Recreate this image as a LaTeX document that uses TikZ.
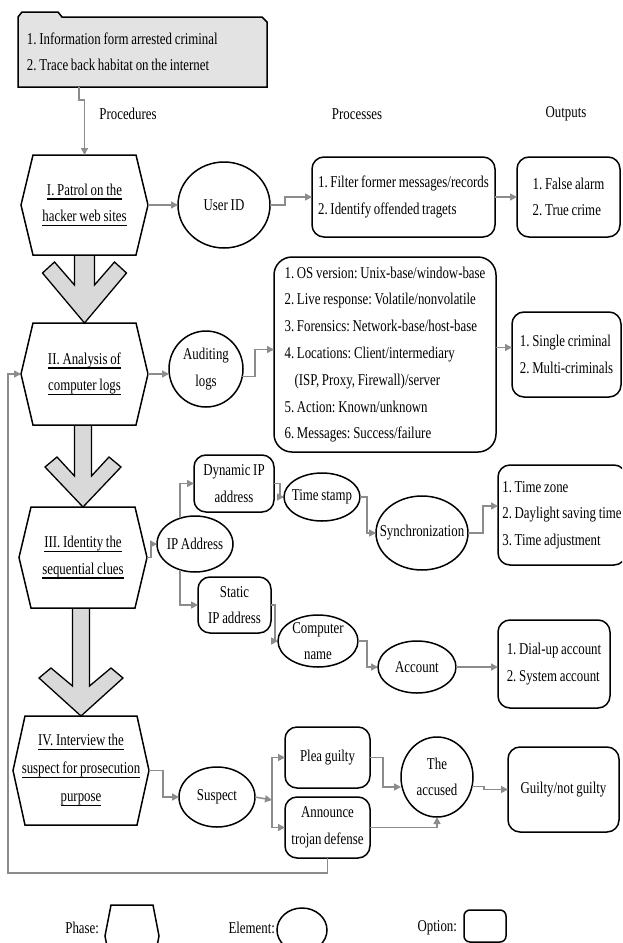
\documentclass[tikz,border=0pt]{standalone}
\usepackage{fontspec}
\setmainfont{Liberation Serif}[FakeStretch=0.78,WordSpace=0.85]
\frenchspacing
\usetikzlibrary{shapes.geometric,arrows.meta,calc}
\definecolor{cgray}{HTML}{8C8C8C}
\definecolor{afill}{HTML}{D9D9D9}
\definecolor{ffill}{HTML}{E3E3E3}
\newsavebox\ulbox
\newcommand\myul[1]{\sbox\ulbox{#1}\rlap{\rule[-4.5pt]{\wd\ulbox}{1.6pt}}\usebox\ulbox}
\newcommand\phasehex[2]{\draw[hexa] ($(#1.north west)+(#2,0)$) -- ($(#1.north east)+(-#2,0)$) -- (#1.east) -- ($(#1.south east)+(-#2,0)$) -- ($(#1.south west)+(#2,0)$) -- (#1.west) -- cycle;}
\newcommand\bigarrow[8]{%
 \coordinate (bgT) at (#2.north);
 \coordinate (bgL) at ($(bgT)+(-#3,-#4)$);
 \coordinate (bgR) at ($(bgT)+(#3,-#4)$);
 \draw[big] (bgL |- #1.south) -- (bgL) -- ($(bgT)+(-#5,-#6)$) -- ($(bgT)+(-#7,-#8)$) -- (bgT) -- ($(bgT)+(#7,-#8)$) -- ($(bgT)+(#5,-#6)$) -- (bgR) -- (bgR |- #1.south);}
\begin{document}
\begin{tikzpicture}[x=1pt,y=-1pt,
  every node/.style={font=\fontsize{16.5}{26.5}\selectfont, inner sep=0pt, outer sep=0pt},
  phase/.style={rectangle, align=center},
  elem/.style={ellipse, draw, line width=1.5pt, align=center, inner xsep=-12pt, inner ysep=-8pt},
  opt/.style={rectangle, rounded corners=12pt, draw, line width=1.5pt},
  conn/.style={draw=cgray, line width=1.5pt, -{Triangle[length=7pt,width=7pt]}},
  hexa/.style={draw, line width=1.5pt},
  big/.style={draw, line width=1.3pt, fill=afill},
]
\clip (0,0) rectangle (622,943);
\fill[white] (0,0) rectangle (622,943);

% folder
\draw[line width=1.5pt, fill=ffill] (18,87) -- (18,17) -- (22,12) -- (58,12) -- (62,17) -- (262,17) -- (267,22) -- (267,87) -- cycle;
\node[minimum width=249, minimum height=70, text width=231, inner xsep=9pt, align=flush left] (info) at (142.5,52) {1. Information form arrested criminal\\2. Trace back habitat on the internet};

% headings
\node (hproc) at (128,114) {Procedures};
\node (hprocs) at (357,114) {Processes};
\node (hout) at (566,114) {Outputs};

% phases
\node[phase, minimum width=127, minimum height=100] (p1) at (84.5,205) {\myul{I. Patrol on the}\\\myul{hacker web sites}};
\node[phase, minimum width=127, minimum height=102] (p2) at (84.5,374) {\myul{II. Analysis of}\\\myul{computer logs}};
\node[phase, minimum width=128, minimum height=101] (p3) at (83,557.5) {\myul{III. Identity the}\\\myul{sequential clues}};
\node[phase, minimum width=136, minimum height=109, font=\fontsize{16.5}{28}\selectfont] (p4) at (81,770.5) {\myul{IV. Interview the}\\\myul{suspect for prosecution}\\\myul{purpose}};

\bigarrow{p1}{p2}{10}{38}{30}{61}{42}{50}
\bigarrow{p2}{p3}{8.5}{31}{26}{50}{38}{40}
\bigarrow{p3}{p4}{8.5}{30}{30}{48}{42}{38}

\phasehex{p1}{12}
\phasehex{p2}{12}
\phasehex{p3}{12}
\phasehex{p4}{12}

% elements
\node[elem, minimum width=92, minimum height=86] (uid) at (224,205) {User ID};
\node[elem, minimum width=74, minimum height=76] (aud) at (206,369) {Auditing\\logs};
\node[elem, minimum width=76, minimum height=56] (ip) at (195,544) {IP Address};
\node[elem, minimum width=76, minimum height=48] (ts) at (322,497) {Time stamp};
\node[elem, minimum width=92, minimum height=74] (sync) at (422,533) {Synchronization};
\node[elem, minimum width=80, minimum height=52] (cn) at (318,641) {Computer\\name};
\node[elem, minimum width=78, minimum height=52] (acc) at (417,667) {Account};
\node[elem, minimum width=76, minimum height=60] (sus) at (217,797) {Suspect};
\node[elem, minimum width=72, minimum height=80] (accd) at (437,777) {The\\accused};

% options
\node[opt, minimum width=183, minimum height=80, align=left] (filt) at (403.5,197) {1. Filter former messages/records\\2. Identify offended tragets};
\node[opt, minimum width=103, minimum height=80, align=left] (fa) at (568.5,197) {1. False alarm\\2. True crime};
\node[opt, minimum width=222, minimum height=195, align=left, rounded corners=18pt, font=\fontsize{16.5}{26.8}\selectfont] (os) at (385,354.5) {1. OS version: Unix-base/window-base\\2. Live response: Volatile/nonvolatile\\3. Forensics: Network-base/host-base\\4. Locations: Client/intermediary\\\hspace*{10pt}(ISP, Proxy, Firewall)/server\\5. Action: Known/unknown\\6. Messages: Success/failure};
\node[opt, minimum width=109, minimum height=85, align=left] (sc) at (566.5,354.5) {1. Single criminal\\2. Multi-criminals};
\node[opt, minimum width=80, minimum height=57, align=center] (dyn) at (234,483.5) {Dynamic IP\\address};
\node[opt, minimum width=73, minimum height=56, align=center] (stat) at (234.5,605) {Static\\IP address};
\node[opt, minimum width=128, minimum height=100, align=left] (tz) at (562,515) {1. Time zone\\2. Daylight saving time\\3. Time adjustment};
\node[opt, minimum width=112, minimum height=88, align=left] (dial) at (554,664) {1. Dial-up account\\2. System account};
\node[opt, minimum width=85, minimum height=61, align=center] (plea) at (327.5,757.5) {Plea guilty};
\node[opt, minimum width=85, minimum height=61, align=center] (ann) at (327.5,827.5) {Announce\\trojan defense};
\node[opt, minimum width=111, minimum height=85, align=center] (guilty) at (563.5,789.5) {Guilty/not guilty};

% connectors
\draw[conn] ($(info.south west)+(61,0)$) -- ++(0,13) -| (p1.north);
\draw[conn] (p1.east) -- (p1.east -| uid.west);
\draw[conn] (uid.east) -- ++(15,0) |- (filt.west);
\draw[conn] (filt.east) -- (fa.west);
\draw[conn] (p2.east) -- (p2.east -| aud.west);
\draw[conn] (aud.-12) -- ++(13,0) |- ($(os.west)+(0,-5)$);
\draw[conn] ($(os.east)+(0,-7)$) -- ($(sc.west)+(0,-7)$);
\draw[conn] (p3.east) -- ++(4,0) |- (ip.west);
\draw[conn] (ip.120) |- (dyn.west);
\draw[conn] (ip.240) |- (stat.west);
\draw[conn] (dyn.east) -- ++(6,0) |- (ts.west);
\draw[conn] (ts.east) -- ++(7,0) |- (sync.west);
\draw[conn] (sync.east) -- ++(15,0) |- ($(tz.west)+(0,-9)$);
\draw[conn] (stat.east) -- ++(4,0) |- (cn.west);
\draw[conn] (cn.east) -- ++(9,0) |- (acc.west);
\draw[conn] (acc.east) -- (acc.east -| dial.west);
\draw[conn] (p4.east) -- ++(14,0) |- (sus.west);
\coordinate (brc) at (272,800);
\draw[conn] (sus.east) -- (brc);
\draw[conn] (brc) |- (plea.west);
\draw[conn] (brc) |- (ann.west);
\draw[conn] (plea.east) -- ++(13,0) |- ($(accd.west)+(0,10)$);
\draw[conn] (ann.east) -| (accd.south);
\draw[conn] (accd.-15) -- ++(12,0) |- (guilty.west);
\coordinate (fbc) at (8,873);
\draw[conn] (ann.south) |- (fbc) |- (p2.west);

% legend
\node[anchor=east] (lph) at (99,928) {Phase:};
\node[phase, minimum width=54, minimum height=62] (lhex) at (132,936) {};
\phasehex{lhex}{6}
\node[anchor=east] (lel) at (275,928) {Element:};
\node[elem, minimum width=50, minimum height=44] (lell) at (302,930) {};
\node[anchor=east] (lop) at (457,928) {Option:};
\node[opt, minimum width=42, minimum height=32, rounded corners=6pt] (lopt) at (485,926) {};
\end{tikzpicture}
\end{document}
